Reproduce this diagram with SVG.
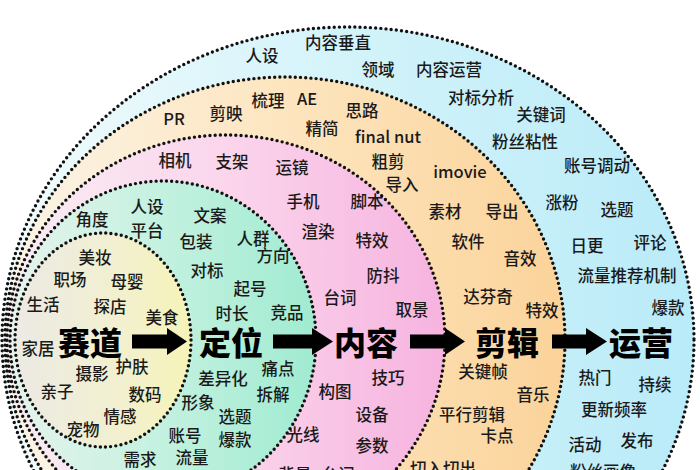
<svg xmlns="http://www.w3.org/2000/svg" width="700" height="470" viewBox="0 0 700 470">
<defs>
<linearGradient id="gBlue" x1="0" y1="0" x2="1" y2="0"><stop offset="0" stop-color="#f2fbfb"/><stop offset="0.45" stop-color="#d6f4fa"/><stop offset="1" stop-color="#b9ebf8"/></linearGradient>
<linearGradient id="gOrange" x1="0" y1="0" x2="1" y2="0"><stop offset="0" stop-color="#fbf4e8"/><stop offset="0.5" stop-color="#fde5bf"/><stop offset="1" stop-color="#fbd39a"/></linearGradient>
<linearGradient id="gPink" x1="0" y1="0" x2="1" y2="0"><stop offset="0" stop-color="#f8eef3"/><stop offset="0.5" stop-color="#fbd5ec"/><stop offset="1" stop-color="#f6b3df"/></linearGradient>
<linearGradient id="gGreen" x1="0" y1="0" x2="1" y2="0"><stop offset="0" stop-color="#e6f3ec"/><stop offset="0.5" stop-color="#c3f1e0"/><stop offset="1" stop-color="#a0ebd1"/></linearGradient>
<linearGradient id="gInner" x1="0" y1="0" x2="1" y2="0"><stop offset="0" stop-color="#eceae4"/><stop offset="0.6" stop-color="#f2f0cf"/><stop offset="1" stop-color="#f6f3b8"/></linearGradient>
<style>
.ring{stroke:#111;stroke-width:3.4;stroke-dasharray:0 5.2;stroke-linecap:round}
.k{font-family:"Noto Sans CJK SC","Noto Sans",sans-serif;font-size:16.5px;font-weight:500;fill:#1a1a1a;text-anchor:middle}
.m{font-family:"Noto Sans CJK SC","Noto Sans",sans-serif;font-size:32px;font-weight:900;fill:#000;text-anchor:middle}
.arr{fill:#000}
</style>
</defs>
<rect width="700" height="470" fill="#ffffff"/>
<g id="node-yunying">
<ellipse class="ring" cx="348" cy="340" rx="346" ry="313" fill="url(#gBlue)"/>
<text class="k" x="262" y="62">人设</text>
<text class="k" x="338" y="49">内容垂直</text>
<text class="k" x="378" y="76">领域</text>
<text class="k" x="449" y="76">内容运营</text>
<text class="k" x="481" y="104">对标分析</text>
<text class="k" x="541" y="121">关键词</text>
<text class="k" x="525" y="148">粉丝粘性</text>
<text class="k" x="597" y="172">账号调动</text>
<text class="k" x="562" y="209">涨粉</text>
<text class="k" x="617" y="216">选题</text>
<text class="k" x="587" y="252">日更</text>
<text class="k" x="650" y="249">评论</text>
<text class="k" x="627" y="282">流量推荐机制</text>
<text class="k" x="668" y="314">爆款</text>
<text class="k" x="595" y="384">热门</text>
<text class="k" x="655" y="391">持续</text>
<text class="k" x="614" y="416">更新频率</text>
<text class="k" x="585" y="451">活动</text>
<text class="k" x="637" y="447">发布</text>
<text class="k" x="603" y="478">粉丝画像</text>
</g>
<g id="node-jianji">
<ellipse class="ring" cx="285" cy="340" rx="280" ry="263" fill="url(#gOrange)"/>
<text class="k" x="174" y="125">PR</text>
<text class="k" x="226" y="120">剪映</text>
<text class="k" x="268" y="107">梳理</text>
<text class="k" x="307" y="105">AE</text>
<text class="k" x="322" y="135">精简</text>
<text class="k" x="362" y="117">思路</text>
<text class="k" x="388" y="143">final nut</text>
<text class="k" x="388" y="168">粗剪</text>
<text class="k" x="402" y="191">导入</text>
<text class="k" x="460" y="178">imovie</text>
<text class="k" x="445" y="218">素材</text>
<text class="k" x="502" y="218">导出</text>
<text class="k" x="468" y="248">软件</text>
<text class="k" x="520" y="265">音效</text>
<text class="k" x="488" y="303">达芬奇</text>
<text class="k" x="542" y="317">特效</text>
<text class="k" x="483" y="378">关键帧</text>
<text class="k" x="533" y="401">音乐</text>
<text class="k" x="472" y="421">平行剪辑</text>
<text class="k" x="497" y="442">卡点</text>
<text class="k" x="443" y="475">切入切出</text>
</g>
<g id="node-neirong">
<ellipse class="ring" cx="226" cy="340" rx="219" ry="205" fill="url(#gPink)"/>
<text class="k" x="175" y="167">相机</text>
<text class="k" x="232" y="168">支架</text>
<text class="k" x="292" y="174">运镜</text>
<text class="k" x="303" y="208">手机</text>
<text class="k" x="367" y="208">脚本</text>
<text class="k" x="318" y="238">渲染</text>
<text class="k" x="372" y="247">特效</text>
<text class="k" x="383" y="282">防抖</text>
<text class="k" x="340" y="304">台词</text>
<text class="k" x="412" y="316">取景</text>
<text class="k" x="388" y="384">技巧</text>
<text class="k" x="335" y="398">构图</text>
<text class="k" x="372" y="421">设备</text>
<text class="k" x="303" y="441">光线</text>
<text class="k" x="372" y="452">参数</text>
<text class="k" x="295" y="481">背景</text>
<text class="k" x="338" y="481">台词</text>
</g>
<g id="node-dingwei">
<ellipse class="ring" cx="163" cy="340" rx="153" ry="159" fill="url(#gGreen)"/>
<text class="k" x="92" y="226">角度</text>
<text class="k" x="147" y="213">人设</text>
<text class="k" x="147" y="237">平台</text>
<text class="k" x="210" y="222">文案</text>
<text class="k" x="196" y="248">包装</text>
<text class="k" x="253" y="245">人群</text>
<text class="k" x="273" y="262">方向</text>
<text class="k" x="207" y="277">对标</text>
<text class="k" x="250" y="295">起号</text>
<text class="k" x="232" y="320">时长</text>
<text class="k" x="287" y="319">竞品</text>
<text class="k" x="278" y="375">痛点</text>
<text class="k" x="223" y="385">差异化</text>
<text class="k" x="273" y="401">拆解</text>
<text class="k" x="198" y="409">形象</text>
<text class="k" x="235" y="423">选题</text>
<text class="k" x="185" y="442">账号</text>
<text class="k" x="235" y="446">爆款</text>
<text class="k" x="192" y="464">流量</text>
<text class="k" x="140" y="466">需求</text>
</g>
<g id="node-saidao">
<ellipse class="ring" cx="103" cy="340" rx="88" ry="107" fill="url(#gInner)"/>
<text class="k" x="95" y="264">美妆</text>
<text class="k" x="70" y="286">职场</text>
<text class="k" x="127" y="288">母婴</text>
<text class="k" x="43" y="311">生活</text>
<text class="k" x="110" y="313">探店</text>
<text class="k" x="162" y="324">美食</text>
<text class="k" x="38" y="355">家居</text>
<text class="k" x="132" y="373">护肤</text>
<text class="k" x="92" y="380">摄影</text>
<text class="k" x="57" y="398">亲子</text>
<text class="k" x="145" y="401">数码</text>
<text class="k" x="120" y="423">情感</text>
<text class="k" x="83" y="436">宠物</text>
</g>
<g id="main-labels">
<text class="m" x="90" y="355">赛道</text>
<text class="m" x="231" y="355">定位</text>
<text class="m" x="366" y="355">内容</text>
<text class="m" x="507" y="355">剪辑</text>
<text class="m" x="641" y="355">运营</text>
</g>
<g id="connectors">
<path class="arr" d="M132,334.5 H167 V328 L187,341.5 L167,355 V348.5 H132 Z"/>
<path class="arr" d="M273,334.5 H312 V328 L333,341.5 L312,355 V348.5 H273 Z"/>
<path class="arr" d="M410,334.5 H445 V328 L465,341.5 L445,355 V348.5 H410 Z"/>
<path class="arr" d="M552,334.5 H586 V328 L607,341.5 L586,355 V348.5 H552 Z"/>
</g>
</svg>
